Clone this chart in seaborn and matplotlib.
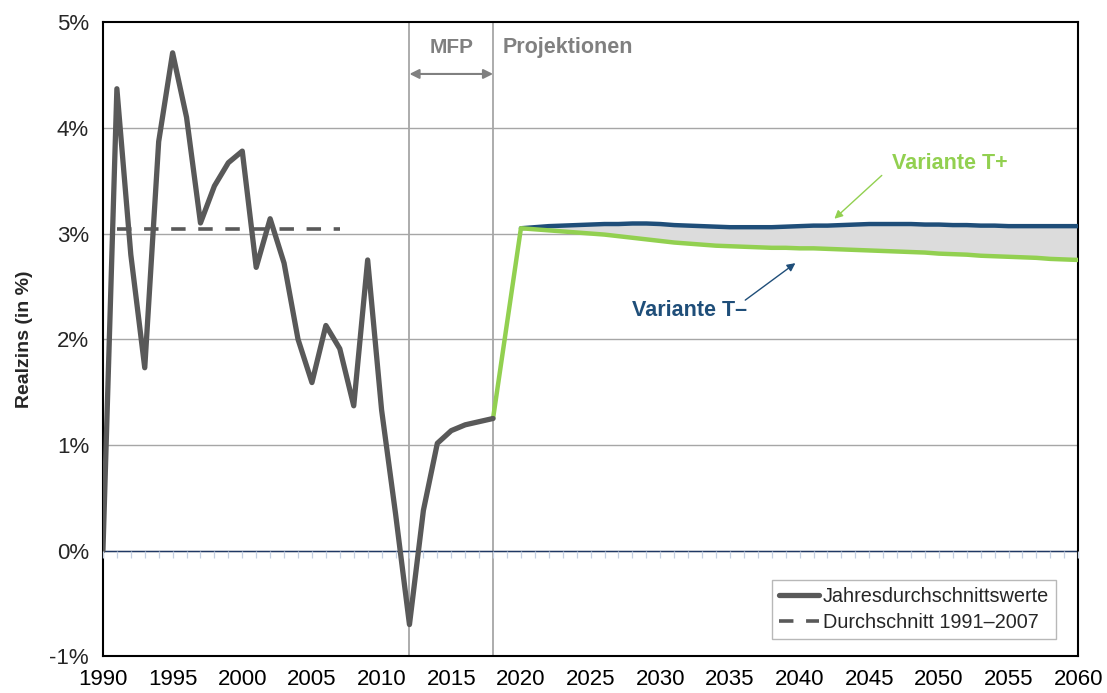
import matplotlib
matplotlib.use("Agg")
import matplotlib.pyplot as plt
import seaborn as sns
import pandas as pd
import numpy as np
from matplotlib.ticker import FuncFormatter, MultipleLocator

# ---------------- data ----------------
hist_years = list(range(1990, 2019))
hist_values = [0.00, 4.37, 2.80, 1.73, 3.87, 4.71, 4.10, 3.10, 3.45, 3.67,
               3.78, 2.68, 3.14, 2.72, 2.00, 1.59, 2.13, 1.91, 1.37, 2.75,
               1.33, 0.35, -0.70, 0.38, 1.015, 1.135, 1.19, 1.22, 1.25]

avg_years = [1991, 2007]
avg_values = [3.04, 3.04]

proj_years = list(range(2020, 2061))
upper_values = [3.05, 3.06, 3.07, 3.075, 3.08, 3.085, 3.09, 3.09, 3.095, 3.095,
                3.09, 3.08, 3.075, 3.07, 3.065, 3.06, 3.06, 3.06, 3.06, 3.065,
                3.07, 3.075, 3.075, 3.08, 3.085, 3.09, 3.09, 3.09, 3.09, 3.085,
                3.085, 3.08, 3.08, 3.075, 3.075, 3.07, 3.07, 3.07, 3.07, 3.07,
                3.07]
lower_values = [3.05, 3.04, 3.03, 3.02, 3.01, 3.00, 2.99, 2.975, 2.96, 2.945,
                2.93, 2.915, 2.905, 2.895, 2.885, 2.88, 2.875, 2.87, 2.865, 2.865,
                2.86, 2.86, 2.855, 2.85, 2.845, 2.84, 2.835, 2.83, 2.825, 2.82,
                2.81, 2.805, 2.80, 2.79, 2.785, 2.78, 2.775, 2.77, 2.76, 2.755,
                2.75]

mfp_start, mfp_end = 2012, 2018
x_ticks = list(range(1990, 2061, 5))
y_ticks = list(range(-1, 6))

# ---------------- styling ----------------
sns.set_theme(style="white")
plt.rcParams['font.family'] = ['Liberation Sans', 'DejaVu Sans']

GREY = "#595959"
GREEN = "#92d050"
BLUE = "#1f4e79"
LABEL_GREY = "#808080"

fig = plt.figure(figsize=(11.07, 6.93), dpi=100)
ax = fig.add_axes([0.093, 0.053, 0.881, 0.915])

hist_df = pd.DataFrame({"Jahr": hist_years, "Wert": hist_values})
avg_df = pd.DataFrame({"Jahr": avg_years, "Wert": avg_values})
up_df = pd.DataFrame({"Jahr": proj_years, "Wert": upper_values})
low_df = pd.DataFrame({"Jahr": [hist_years[-1]] + proj_years,
                       "Wert": [hist_values[-1]] + lower_values})

# grid lines
for yv in y_ticks[1:-1]:
    ax.axhline(yv, color="#a6a6a6", lw=1.0, zorder=0)
ax.axvline(mfp_start, color="#a6a6a6", lw=1.3, zorder=1)
ax.axvline(mfp_end, color="#a6a6a6", lw=1.3, zorder=1)

# zero line with yearly minor ticks
ax.axhline(0, color="#1f3864", lw=1.0, zorder=1)
tw = ax.twiny()
tw.set_xlim(1990, 2060)
for s in tw.spines.values():
    s.set_visible(False)
tw.xaxis.set_ticks_position('bottom')
tw.spines['bottom'].set_position(('data', 0))
tw.xaxis.set_major_locator(MultipleLocator(1))
tw.tick_params(axis='x', which='major', direction='out', length=5, width=0.9,
               color="#c5d0e2", labelbottom=False, labeltop=False, top=False)
tw.patch.set_visible(False)

# fill between scenarios
ax.fill_between(proj_years, lower_values, upper_values, color="#dcdcdc", zorder=2, lw=0)

sns.lineplot(data=up_df, x="Jahr", y="Wert", ax=ax, color=BLUE, lw=3.2, zorder=3)
sns.lineplot(data=low_df, x="Jahr", y="Wert", ax=ax, color=GREEN, lw=3.2, zorder=4)
sns.lineplot(data=hist_df, x="Jahr", y="Wert", ax=ax, color=GREY, lw=3.8, zorder=5,
             label="Jahresdurchschnittswerte")
sns.lineplot(data=avg_df, x="Jahr", y="Wert", ax=ax, color=GREY, lw=2.6, zorder=5,
             linestyle=(0, (4, 3.5)), label="Durchschnitt 1991\u20132007")

ax.set_xlim(1990, 2060)
ax.set_ylim(-1, 5)
ax.set_xticks(x_ticks)
ax.set_yticks(y_ticks)
ax.yaxis.set_major_formatter(FuncFormatter(lambda v, p: f"{int(round(v))}%".replace("\u2212", "-")))
ax.tick_params(axis='x', length=0, labelsize=16, pad=9, colors="black")
ax.tick_params(axis='y', length=6, width=1, color="#a6a6a6", labelsize=16, pad=4)
ax.set_xlabel("")
ax.set_ylabel("Realzins (in %)", fontsize=14, fontweight="bold", labelpad=12)

for s in ax.spines.values():
    s.set_visible(True)
    s.set_color("black")
    s.set_linewidth(1.5)

# annotations
ax.annotate("", xy=(mfp_start, 4.51), xytext=(mfp_end, 4.51),
            arrowprops=dict(arrowstyle="<|-|>", color=LABEL_GREY, lw=1.5,
                            mutation_scale=14, shrinkA=0, shrinkB=0))
ax.text((mfp_start + mfp_end) / 2, 4.76, "MFP", ha="center", va="center",
        fontsize=15, fontweight="bold", color=LABEL_GREY)
ax.text(mfp_end + 0.7, 4.76, "Projektionen", ha="left", va="center",
        fontsize=15.5, fontweight="bold", color=LABEL_GREY)

ax.text(2050.8, 3.66, "Variante T+", ha="center", va="center",
        fontsize=15.5, fontweight="bold", color=GREEN)
ax.annotate("", xy=(2042.5, 3.14), xytext=(2045.9, 3.55),
            arrowprops=dict(arrowstyle="-|>", color=GREEN, lw=1.0,
                            mutation_scale=12, shrinkA=0, shrinkB=0))
ax.text(2032.1, 2.27, "Variante T\u2013", ha="center", va="center",
        fontsize=15.5, fontweight="bold", color=BLUE)
ax.annotate("", xy=(2039.7, 2.72), xytext=(2036.1, 2.37),
            arrowprops=dict(arrowstyle="-|>", color=BLUE, lw=1.0,
                            mutation_scale=12, shrinkA=0, shrinkB=0))

leg = ax.legend(loc="lower right", bbox_to_anchor=(0.977, 0.028), fontsize=14.3,
                frameon=True, fancybox=False, edgecolor="#a6a6a6",
                handlelength=2.0, handletextpad=0.2, borderpad=0.35,
                labelspacing=0.35, borderaxespad=0)
leg.get_frame().set_linewidth(1.0)

fig.savefig("out.png", dpi=100)
